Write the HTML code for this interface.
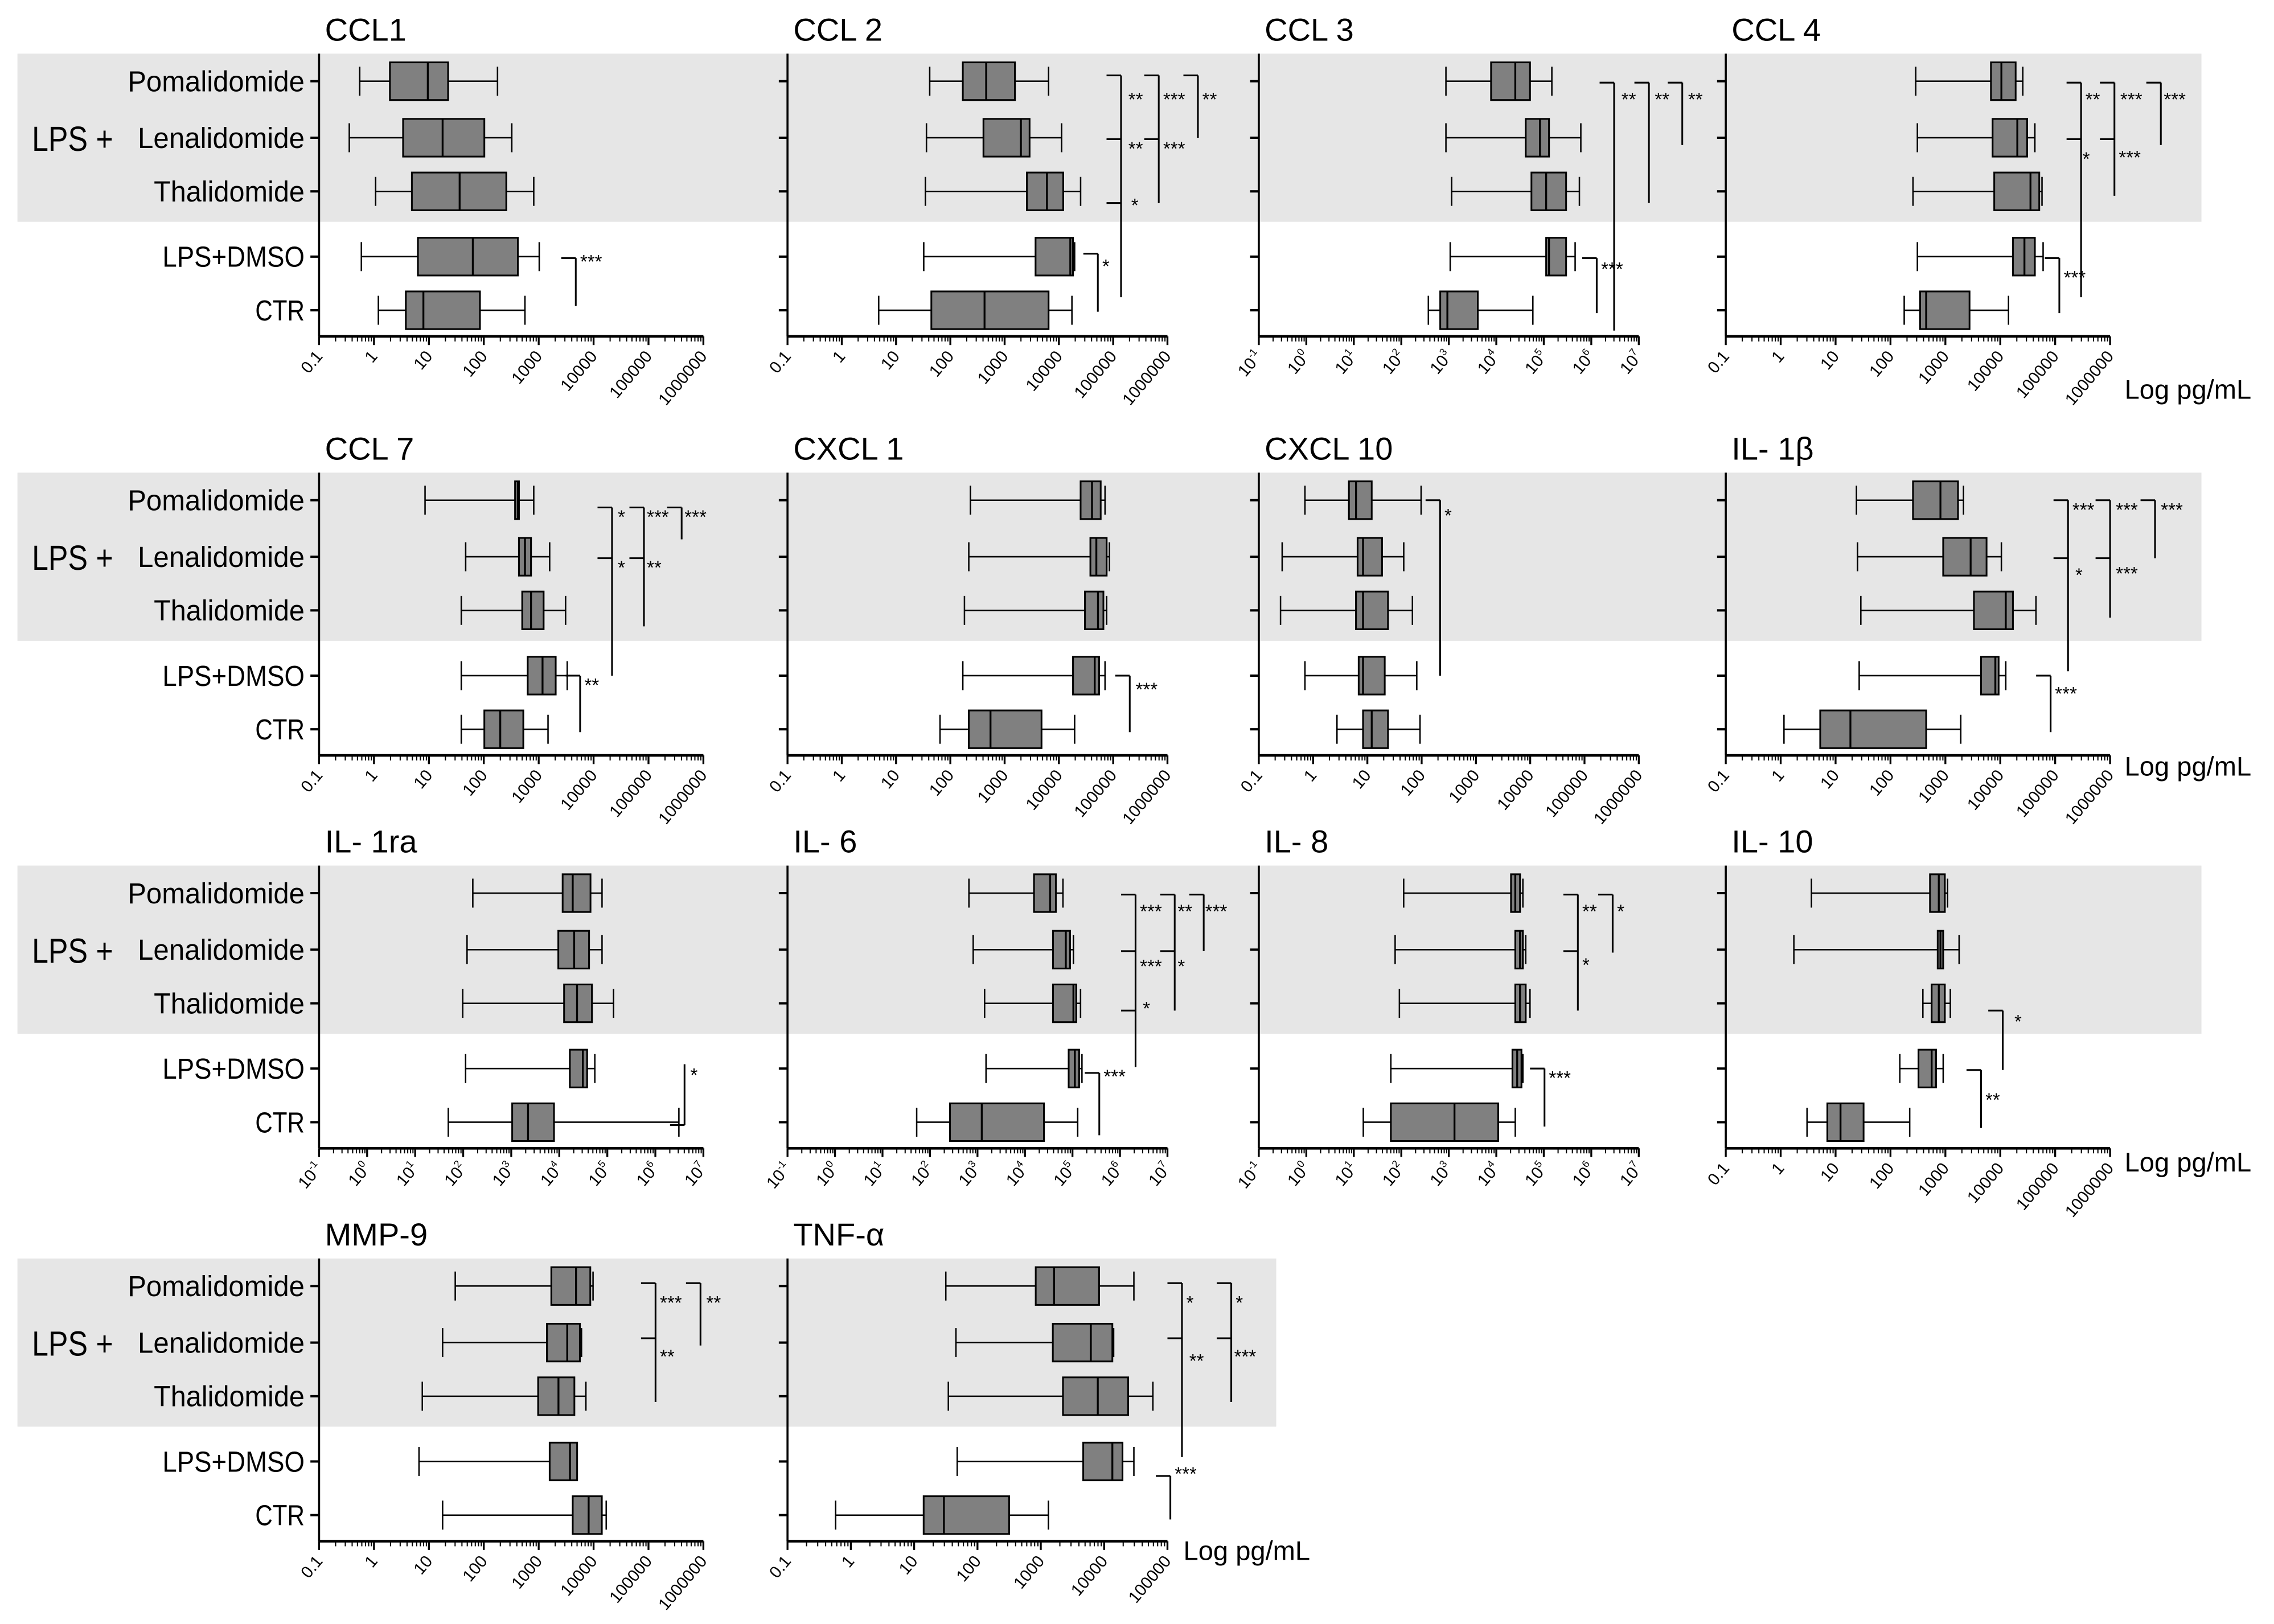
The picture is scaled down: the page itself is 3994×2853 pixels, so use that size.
<!DOCTYPE html>
<html><head><meta charset="utf-8">
<style>
html,body{margin:0;padding:0;background:#fff;}
svg{display:block;font-family:"Liberation Sans Narrow","Liberation Sans",sans-serif;}
</style></head>
<body>
<svg id="fig" width="3994" height="2853" viewBox="0 0 1568 1120.1" xmlns="http://www.w3.org/2000/svg"></svg>
<script>
// Data: log10 values [min, q1, median, q3, max] per category
const categories = ['Pomalidomide','Lenalidomide','Thalidomide','LPS+DMSO','CTR'];
const titles = ['CCL1','CCL 2','CCL 3','CCL 4','CCL 7','CXCL 1','CXCL 10','IL- 1β','IL- 1ra','IL- 6','IL- 8','IL- 10','MMP-9','TNF-α'];
const axisMin = [-1,-1,-1,-1,-1,-1,-1,-1,-1,-1,-1,-1,-1,-1];
const axisMax = [6,6,7,6,6,6,6,6,7,7,7,6,6,5];
const expLabels = [false,false,true,false,false,false,false,false,true,true,true,false,false,false];
const ccl1 = [[-0.26,0.29,0.98,1.35,2.25],[-0.45,0.53,1.25,2.01,2.51],[0.03,0.69,1.56,2.41,2.91],[-0.23,0.8,1.8,2.62,3.01],[0.08,0.58,0.9,1.93,2.75]];
const ccl2 = [[1.62,2.23,2.66,3.19,3.81],[1.56,2.61,3.30,3.46,4.05],[1.54,3.41,3.78,4.08,4.40],[1.51,3.57,4.21,4.26,4.29],[0.68,1.65,2.63,3.81,4.24]];
const ccl3 = [[2.94,3.89,4.40,4.71,5.17],[2.94,4.62,4.92,5.11,5.78],[3.06,4.74,5.05,5.47,5.75],[3.03,5.05,5.11,5.47,5.66],[2.57,2.82,2.97,3.61,4.77]];
const ccl4 = [[2.46,3.83,4.02,4.28,4.41],[2.49,3.86,4.31,4.49,4.63],[2.41,3.89,4.55,4.71,4.76],[2.49,4.23,4.44,4.63,4.78],[2.25,2.54,2.65,3.44,4.15]];
const ccl7 = [[0.93,2.57,2.62,2.64,2.91],[1.67,2.64,2.75,2.86,3.20],[1.59,2.70,2.86,3.09,3.49],[1.59,2.80,3.07,3.31,3.52],[1.59,2.01,2.30,2.72,3.17]];
const cxcl1 = [[2.37,4.40,4.61,4.77,4.85],[2.34,4.58,4.69,4.88,4.93],[2.26,4.48,4.72,4.82,4.88],[2.23,4.26,4.66,4.74,4.85],[1.81,2.34,2.74,3.68,4.29]];
const cxcl10 = [[-0.15,0.66,0.79,1.08,1.99],[-0.57,0.82,0.92,1.27,1.67],[-0.60,0.79,0.92,1.38,1.83],[-0.15,0.84,0.92,1.32,1.91],[0.44,0.92,1.08,1.38,1.97]];
const il1b = [[1.38,2.41,2.91,3.23,3.33],[1.40,2.96,3.46,3.75,4.02],[1.46,3.52,4.10,4.23,4.65],[1.43,3.65,3.91,3.97,4.10],[0.06,0.72,1.27,2.65,3.28]];
const il1ra = [[2.20,4.07,4.28,4.65,4.89],[2.08,3.98,4.31,4.62,4.89],[1.99,4.10,4.37,4.68,5.13],[2.05,4.22,4.49,4.58,4.74],[1.69,3.02,3.35,3.89,6.49]];
const il6 = [[2.82,4.19,4.53,4.65,4.80],[2.91,4.59,4.86,4.95,5.02],[3.15,4.59,5.02,5.08,5.17],[3.18,4.92,5.05,5.14,5.20],[1.72,2.42,3.09,4.40,5.11]];
const il8 = [[2.05,4.31,4.40,4.50,4.56],[1.87,4.40,4.50,4.56,4.62],[1.96,4.40,4.50,4.62,4.71],[1.78,4.34,4.44,4.53,4.56],[1.20,1.78,3.12,4.04,4.40]];
const il10 = [[0.56,2.72,2.88,2.99,3.04],[0.24,2.86,2.91,2.96,3.25],[2.59,2.75,2.88,2.99,3.09],[2.17,2.51,2.75,2.83,2.96],[0.48,0.85,1.09,1.51,2.35]];
const mmp9 = [[1.48,3.23,3.68,3.94,3.99],[1.25,3.15,3.52,3.75,3.78],[0.88,2.99,3.36,3.65,3.86],[0.82,3.20,3.57,3.70,3.70],[1.25,3.62,3.91,4.15,4.23]];
const tnfa = [[1.50,2.92,3.21,3.92,4.47],[1.66,3.19,3.79,4.13,4.15],[1.54,3.35,3.90,4.38,4.77],[1.68,3.67,4.13,4.29,4.47],[-0.24,1.15,1.47,2.50,3.12]];
const panelData = [ccl1,ccl2,ccl3,ccl4,ccl7,cxcl1,cxcl10,il1b,il1ra,il6,il8,il10,mmp9,tnfa];

const NS='http://www.w3.org/2000/svg';
const svg=document.getElementById('fig');
function mk(tag,attrs,parent){const e=document.createElementNS(NS,tag);for(const k in attrs)e.setAttribute(k,attrs[k]);(parent||svg).appendChild(e);return e;}

const colX=[[220,485],[543,805],[868,1130],[1190,1455]];
const bandTop=[37,326,597,868];
const rowOff=[19,58,95,140,177];
const axisOff=195;
const bandW=[1506,1506,1506,868];
const labelWidths={'Pomalidomide':122,'Lenalidomide':115,'Thalidomide':104,'LPS+DMSO':98,'CTR':34};

for(let r=0;r<4;r++){
  const b=mk('rect',{x:12,y:bandTop[r],width:bandW[r],height:116,fill:'#e6e6e6'});
  
  
}

for(let p=0;p<14;p++){
  const r=Math.floor(p/4), c=p%4;
  const g=mk('g',{});
  
  
  const x0=colX[c][0], x1=colX[c][1], top=bandTop[r];
  const ay=top+axisOff;
  const lo=axisMin[p], hi=axisMax[p];
  const sx=v=>x0+(v-lo)/(hi-lo)*(x1-x0);
  const t=mk('text',{x:x0+4,y:top-9,'font-size':22,fill:'#000'},g);
  t.textContent=titles[p];
  
  
  const ya=mk('line',{x1:x0,y1:top,x2:x0,y2:ay,stroke:'#000','stroke-width':1.4},g);
  
  
  const xa=mk('line',{x1:x0,y1:ay,x2:x1,y2:ay,stroke:'#000','stroke-width':1.8},g);
  
  
  for(let d=lo;d<=hi;d++){
    const tx=sx(d);
    mk('line',{x1:tx,y1:ay,x2:tx,y2:ay+6,stroke:'#000','stroke-width':1.3},g);
    if(d<hi){for(let m=2;m<10;m++){const mx=sx(d+Math.log10(m));mk('line',{x1:mx,y1:ay,x2:mx,y2:ay+3.5,stroke:'#000','stroke-width':0.8},g);}}
    const lbl=mk('text',{x:tx+3,y:ay+14,'font-size':11.5,'text-anchor':'end',transform:`rotate(-50 ${tx+3} ${ay+14})`},g);
    if(expLabels[p]){
      lbl.textContent='10';
      const s=mk('tspan',{dy:-5,'font-size':7},lbl); s.textContent=String(d);
    } else {
      lbl.textContent=d<0?'0.1':String(Math.pow(10,d));
    }
    
    
  }
  const data=panelData[p];
  for(let i=0;i<5;i++){
    const y=top+rowOff[i];
    mk('line',{x1:x0-6,y1:y,x2:x0,y2:y,stroke:'#000','stroke-width':1.6},g);
    if(c===0){
      const rl=mk('text',{x:x0-10,y:y+7,'font-size':20,'text-anchor':'end',textLength:labelWidths[categories[i]],lengthAdjust:'spacingAndGlyphs'},g);
      rl.textContent=categories[i];
      
      
    }
    const [mn,q1,md,q3,mx]=data[i];
    const bg=mk('g',{},g);
    
    
    mk('line',{x1:sx(mn),y1:y,x2:sx(mx),y2:y,stroke:'#000','stroke-width':1},bg);
    mk('line',{x1:sx(mn),y1:y-10,x2:sx(mn),y2:y+10,stroke:'#000','stroke-width':1},bg);
    mk('line',{x1:sx(mx),y1:y-10,x2:sx(mx),y2:y+10,stroke:'#000','stroke-width':1},bg);
    mk('rect',{x:sx(q1),y:y-13,width:Math.max(sx(q3)-sx(q1),1),height:26,fill:'#808080',stroke:'#000','stroke-width':1.2},bg);
    mk('line',{x1:sx(md),y1:y-13,x2:sx(md),y2:y+13,stroke:'#000','stroke-width':1.3},bg);
  }
  if(c===0){
    const lps=mk('text',{x:22,y:top+rowOff[1]+9,'font-size':24,textLength:56,lengthAdjust:'spacingAndGlyphs'},g);
    lps.textContent='LPS +';
    
    
  }
}

[[1465,275],[1465,535],[1465,808],[816,1076]].forEach(([x,y])=>{
  const u=mk('text',{x:x,y:y,'font-size':18.5});
  u.textContent='Log pg/mL';
  
  
});

const sigLines=[
 [397,178,211,[178]],
 [773,52,205,[52,96,140]],[799,52,140,[52,96]],[826,52,95,[52]],[757,175,215,[175]],
 [1113,57,228,[57]],[1137,57,140,[57]],[1160,57,100,[57]],[1101,178,216,[178]],
 [1435,57,205,[57,96]],[1458,57,135,[57,96]],[1490,57,100,[57]],[1420,178,216,[178]],
 [422,350,466,[350,385]],[444,350,432,[350,385]],[470,350,372,[350]],[400,466,505,[466]],
 [779,466,505,[466]],
 [993,345,466,[345]],
 [1426,345,463,[345,385]],[1455,345,426,[345,385]],[1486,345,385,[345]],[1414,466,505,[466]],
 [472,734,776,[776]],
 [783,617,736,[617,656,697]],[810,617,697,[617,656]],[830,617,656,[617]],[758,740,783,[740]],
 [1088,617,697,[617,656]],[1112,617,657,[617]],[1065,737,777,[737]],
 [1381,697,738,[697]],[1366,738,778,[738]],
 [452,885,967,[885,923]],[483,885,928,[885]],
 [815,885,1005,[885,923]],[849,885,967,[885,923]],[807,1018,1048,[1018]]
];
const sigText=[
 [400,185,'***'],
 [778,73,'**'],[802,73,'***'],[829,73,'**'],[778,107,'**'],[802,107,'***'],[780,146,'*'],[760,188,'*'],
 [1118,73,'**'],[1141,73,'**'],[1164,73,'**'],[1104,190,'***'],
 [1438,73,'**'],[1462,73,'***'],[1492,73,'***'],[1436,114,'*'],[1461,113,'***'],[1423,196,'***'],
 [426,361,'*'],[446,361,'***'],[472,361,'***'],[426,396,'*'],[446,396,'**'],[403,477,'**'],
 [783,480,'***'],
 [996,360,'*'],
 [1429,356,'***'],[1459,356,'***'],[1490,356,'***'],[1431,401,'*'],[1459,400,'***'],[1417,483,'***'],
 [476,746,'*'],
 [786,633,'***'],[812,633,'**'],[831,633,'***'],[786,671,'***'],[812,671,'*'],[788,700,'*'],[761,747,'***'],
 [1091,633,'**'],[1115,633,'*'],[1091,670,'*'],[1068,748,'***'],
 [1389,709,'*'],[1369,763,'**'],
 [455,903,'***'],[487,903,'**'],[455,940,'**'],
 [818,903,'*'],[852,903,'*'],[820,943,'**'],[851,940,'***'],[810,1021,'***']
];
sigLines.forEach(([x,y1,y2,stubs])=>{
  const l=mk('path',{d:`M${x} ${y1} L${x} ${y2}`+stubs.map(s=>` M${x-10} ${s} L${x} ${s}`).join(''),stroke:'#000','stroke-width':1.2,fill:'none'});
  
  
});
sigText.forEach(([x,y,s])=>{
  const t=mk('text',{x:x,y:y,'font-size':13});
  t.textContent=s;
  
  
});
</script>
</body></html>
